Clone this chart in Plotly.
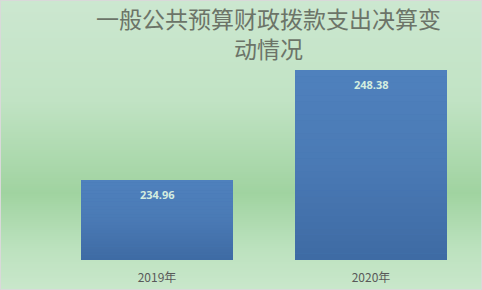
import plotly.graph_objects as go

categories = ["2019年", "2020年"]
values = [234.96, 248.38]
labels = ["234.96", "248.38"]
title_lines = ["一般公共预算财政拨款支出决算变", "动情况"]

W, H = 482, 290
L, R, T, B = 50, 4, 62, 30
PH = H - T - B
YMIN = 225.2
YMAX = YMIN + PH / 8.2
BAR_W = 0.71

def py2paper(py):
    return (H - B - py) / PH

def px2paper(px):
    return (px - L) / (W - L - R)

def hex2rgb(h):
    h = h.lstrip('#')
    return tuple(int(h[i:i+2], 16) for i in (0, 2, 4))

def interp(stops, y):
    for (y0, c0), (y1, c1) in zip(stops[:-1], stops[1:]):
        if y0 <= y <= y1:
            t = (y - y0) / (y1 - y0) if y1 != y0 else 0
            a, b = hex2rgb(c0), hex2rgb(c1)
            return "rgb(%d,%d,%d)" % tuple(round(a[i] + (b[i] - a[i]) * t) for i in range(3))
    return stops[-1][1]

bg_stops = [(0, "#cce7d0"), (100, "#c1e3c4"), (193, "#a0d3a0"), (250, "#bde2bf"), (290, "#c9e7cb")]
bar_stops = [(0, "#4f81bd"), (0.5, "#4a7ab5"), (1, "#3e6aa3")]

shapes = []
step = 2
for y in range(0, H, step):
    shapes.append(dict(type="rect", xref="paper", yref="paper", layer="below",
                       x0=px2paper(0), x1=px2paper(W), y0=py2paper(y + step + 0.5), y1=py2paper(y),
                       fillcolor=interp(bg_stops, y + step / 2), line=dict(width=0)))

# per-bar vertical gradient overlay (in data coordinates)
N = 30
for i, v in enumerate(values):
    for k in range(N):
        t0, t1 = k / N, (k + 1) / N
        ytop = v - (v - YMIN) * t0
        ybot = v - (v - YMIN) * t1
        shapes.append(dict(type="rect", xref="x", yref="y", layer="above",
                           x0=i - BAR_W / 2, x1=i + BAR_W / 2, y0=ybot - 0.02, y1=ytop,
                           fillcolor=interp(bar_stops, (t0 + t1) / 2), line=dict(width=0)))

# border
shapes.append(dict(type="rect", xref="paper", yref="paper", layer="above",
                   x0=px2paper(0.5), x1=px2paper(W - 0.5), y0=py2paper(H - 0.5), y1=py2paper(0.5),
                   line=dict(color="#d9d9d9", width=1), fillcolor="rgba(0,0,0,0)"))

fig = go.Figure()
fig.add_trace(go.Bar(x=categories, y=values, width=BAR_W,
                     marker=dict(color="#4777b3", line=dict(width=0)),
                     hoverinfo="skip"))

annotations = []
for c, v, t in zip(categories, values, labels):
    annotations.append(dict(x=c, y=v, text="<b>%s</b>" % t, showarrow=False,
                            yanchor="middle", yshift=-15,
                            font=dict(size=11, color="#d4ede0", family="Open Sans, DejaVu Sans")))

annotations.append(dict(xref="paper", yref="paper", x=px2paper(268), y=py2paper(33),
                        xanchor="center", yanchor="middle", align="center", showarrow=False,
                        text="<br>".join(title_lines),
                        font=dict(size=23, color="#6c7468", family="Noto Sans CJK SC")))

fig.update_layout(
    width=W, height=H,
    margin=dict(l=L, r=R, t=T, b=B),
    paper_bgcolor="#c9e7cb",
    plot_bgcolor="rgba(0,0,0,0)",
    xaxis=dict(showline=False, showgrid=False, ticks="", ticklabelstandoff=9,
               tickfont=dict(size=12, color="#595959", family="Noto Sans CJK SC, DejaVu Sans")),
    yaxis=dict(range=[YMIN, YMAX], visible=False, showgrid=False),
    bargap=0.29,
    showlegend=False,
    shapes=shapes,
    annotations=annotations,
)

fig.write_html("out.html")
